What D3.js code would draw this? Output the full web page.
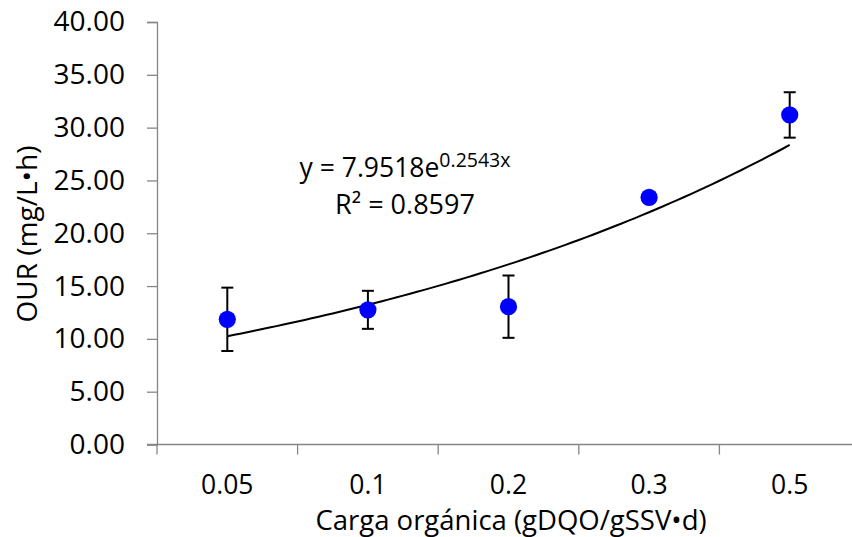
<!DOCTYPE html>
<html lang="es">
<head>
<meta charset="UTF-8">
<script src="https://d3js.org/d3.v7.min.js"></script>
<style>
  body { margin: 0; background: #fff; }
  svg text { font-family: "Open Sans", sans-serif; fill: #000; }
</style>
</head>
<body>
<script>
// data
const cargas = ["0.05", "0.1", "0.2", "0.3", "0.5"];
const ourMedia = [11.85, 12.75, 13.05, 23.4, 31.2];
const ourError = [3.0, 1.8, 2.95, 0, 2.15];
const yTicks = [0, 5, 10, 15, 20, 25, 30, 35, 40];
// exponential trendline y = a*e^(b*x), x = category index 1..n
const trendA = 7.9518;
const trendB = 0.2543;

const w = 852, h = 537;
const svg = d3.select("body").append("svg")
  .attr("width", w).attr("height", h);

const x = d3.scaleBand().domain(cargas).range([157, 860]);
const y = d3.scaleLinear().domain([0, 40]).range([444.5, 22]);
const axisCol = "#868686";

// y axis
const yAxis = svg.append("g")
  .attr("transform", "translate(157,0)")
  .call(d3.axisLeft(y).tickValues(yTicks).tickSize(10).tickPadding(22)
    .tickFormat(d3.format(".2f")));
yAxis.select(".domain").attr("stroke", axisCol).attr("stroke-width", 1.3);
yAxis.selectAll(".tick line").attr("stroke", axisCol).attr("stroke-width", 1.3);
yAxis.selectAll(".tick text").attr("font-size", 28)
  .style("font-family", "'Open Sans', sans-serif").attr("fill", "#000");

// x axis, ticks on category boundaries
const xAxis = svg.append("g").attr("transform", "translate(0,444.5)");
xAxis.append("line").attr("x1", 147).attr("x2", 860)
  .attr("stroke", axisCol).attr("stroke-width", 1.3);
xAxis.selectAll("line.tk").data(cargas).enter().append("line")
  .attr("class", "tk")
  .attr("x1", d => x(d)).attr("x2", d => x(d))
  .attr("y1", 0).attr("y2", 10)
  .attr("stroke", axisCol).attr("stroke-width", 1.3);
xAxis.selectAll("text").data(cargas).enter().append("text")
  .attr("x", d => x(d) + x.bandwidth() / 2)
  .attr("y", 49.5)
  .attr("text-anchor", "middle")
  .attr("font-size", 26.5)
  .text(d => d);

// axis titles
svg.append("text")
  .attr("x", 511).attr("y", 530)
  .attr("text-anchor", "middle")
  .attr("font-size", 27.5)
  .text("Carga orgánica (gDQO/gSSV•d)");
svg.append("text")
  .attr("transform", "translate(37,234) rotate(-90)")
  .attr("text-anchor", "middle")
  .attr("font-size", 28)
  .text("OUR (mg/L•h)");

const cx = (d, i) => x(cargas[i]) + x.bandwidth() / 2;

// trendline
const idx = d3.range(1, cargas.length + 0.001, 0.05);
const trendLine = d3.line()
  .x(t => x(cargas[0]) + x.bandwidth() / 2 + (t - 1) * x.step())
  .y(t => y(trendA * Math.exp(trendB * t)));
svg.append("path")
  .datum(idx)
  .attr("d", trendLine)
  .attr("fill", "none")
  .attr("stroke", "#000")
  .attr("stroke-width", 2);

// error bars
const eb = svg.append("g").attr("stroke", "#000").attr("stroke-width", 2);
ourMedia.forEach((v, i) => {
  if (!ourError[i]) return;
  const px = cx(v, i);
  eb.append("line").attr("x1", px).attr("x2", px)
    .attr("y1", y(v + ourError[i])).attr("y2", y(v - ourError[i]));
  [v + ourError[i], v - ourError[i]].forEach(e => {
    eb.append("line").attr("x1", px - 6).attr("x2", px + 6)
      .attr("y1", y(e)).attr("y2", y(e));
  });
});

// points
svg.selectAll("circle").data(ourMedia).enter().append("circle")
  .attr("cx", cx)
  .attr("cy", d => y(d))
  .attr("r", 8.6)
  .attr("fill", "#0000ff");

// trendline label
const eq = svg.append("text")
  .attr("x", 405).attr("y", 177)
  .attr("text-anchor", "middle")
  .attr("font-size", 26.5);
eq.append("tspan").text("y = 7.9518e");
eq.append("tspan").attr("font-size", 19.5).attr("dy", -10).text("0.2543x");
svg.append("text")
  .attr("x", 405).attr("y", 214)
  .attr("text-anchor", "middle")
  .attr("font-size", 27)
  .text("R² = 0.8597");
</script>
</body>
</html>
